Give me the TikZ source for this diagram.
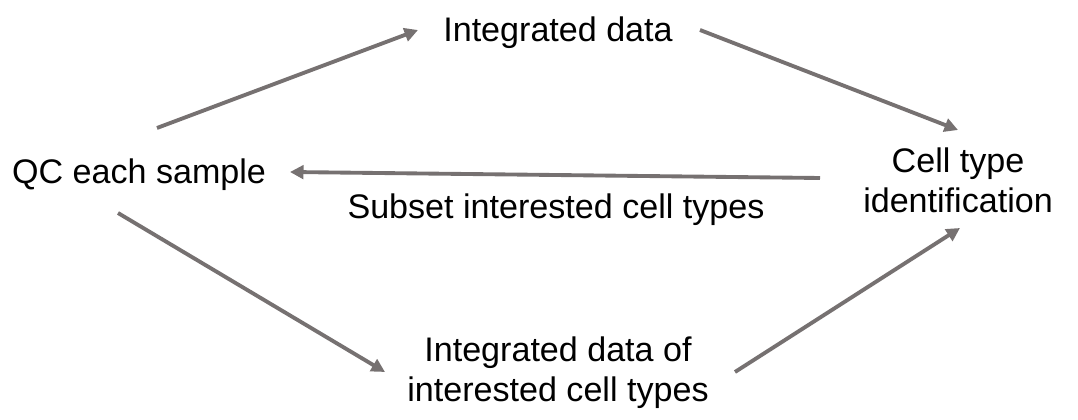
\documentclass[tikz,border=0pt]{standalone}
\usepackage{fontspec}
\setmainfont{Liberation Sans}
\usepackage{tikz}
\usetikzlibrary{arrows.meta,positioning}
\definecolor{arrgray}{HTML}{767171}

\begin{document}
\begin{tikzpicture}[
  lbl/.style={align=center, inner sep=0pt, font=\fontsize{19.4}{22.8}\selectfont},
  arr/.style={-{Triangle[length=0.27cm,width=0.27cm]}, line width=2.2pt, arrgray}
]
  \useasboundingbox (0,0) rectangle (21.56,8.4);
  \node[lbl] (qc) at (2.78,4.90) {QC each sample};
  \node[lbl] (integ) at (11.16,7.74) {Integrated data};
  \node[lbl] (celltype) at (19.16,4.80) {Cell type\\identification};
  \node[lbl] (subset) at (11.12,4.20) {Subset interested cell types};
  \node[lbl] (integsub) at (11.16,0.94) {Integrated data of\\interested cell types};
  \draw[arr] ([shift={(0.36,0.94)}]qc.center) -- ([shift={(-2.80,0.06)}]integ.center);
  \draw[arr] ([shift={(2.84,0.06)}]integ.center) -- ([shift={(0,1.00)}]celltype.center);
  \draw[arr] ([shift={(-2.76,0.04)}]celltype.center) -- ([shift={(3.02,0.06)}]qc.center);
  \draw[arr] ([shift={(-0.42,-0.76)}]qc.center) -- ([shift={(-3.46,0.02)}]integsub.center);
  \draw[arr] ([shift={(3.54,0.02)}]integsub.center) -- ([shift={(0.04,-0.96)}]celltype.center);
\end{tikzpicture}
\end{document}
